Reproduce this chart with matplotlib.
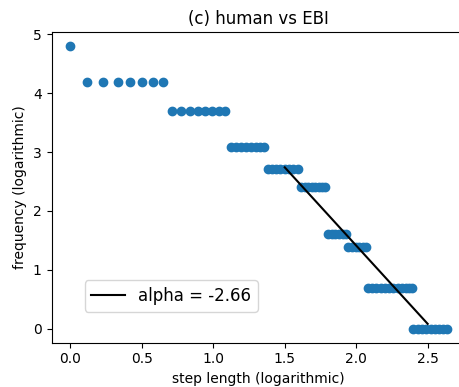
import matplotlib
matplotlib.use("Agg")
import matplotlib.pyplot as plt
import numpy as np

# frequency levels (ln of counts) and the step lengths at each level
LEVELS = [4.80, 4.19, 3.69, 3.09, 2.71, 2.40, 1.61, 1.39, 0.69, 0.0]
STEPS = [
    [0.0],
    [0.12, 0.23, 0.33, 0.415, 0.50, 0.58, 0.65],
    [0.713, 0.776, 0.834, 0.893, 0.944, 0.991, 1.040, 1.084],
    [1.125, 1.16, 1.195, 1.23, 1.265, 1.30, 1.33, 1.356],
    [1.381, 1.41, 1.44, 1.47, 1.50, 1.53, 1.56, 1.591],
    [1.617, 1.64, 1.665, 1.69, 1.715, 1.74, 1.76, 1.784],
    [1.804, 1.83, 1.855, 1.88, 1.905, 1.929],
    [1.945, 1.97, 1.995, 2.02, 2.045, 2.07],
    [2.083, 2.11, 2.14, 2.17, 2.20, 2.23, 2.26, 2.29, 2.32, 2.35, 2.37, 2.391],
    [2.40, 2.43, 2.46, 2.49, 2.52, 2.55, 2.58, 2.61, 2.633],
]

# power-law fit
ALPHA = -2.66
INTERCEPT = 6.73
FIT_RANGE = [1.5, 2.5]

x = np.concatenate([np.array(s) for s in STEPS])
y = np.concatenate([np.full(len(s), lv) for s, lv in zip(STEPS, LEVELS)])

fig = plt.figure(figsize=(4.6, 3.87), dpi=100)
ax = fig.add_axes([0.112, 0.1145, 0.90, 0.8028])

ax.scatter(x, y, color="#1f77b4")
fx = np.array(FIT_RANGE)
ax.plot(fx, INTERCEPT + ALPHA * fx, color="black", label=f"alpha = {ALPHA}")

ax.set_title("(c) human vs EBI")
ax.set_xlabel("step length (logarithmic)")
ax.set_ylabel("frequency (logarithmic)")
ax.legend(loc="lower left", bbox_to_anchor=(0.08, 0.10), borderaxespad=0,
          fontsize=12)

fig.savefig("out.png", dpi=100)
